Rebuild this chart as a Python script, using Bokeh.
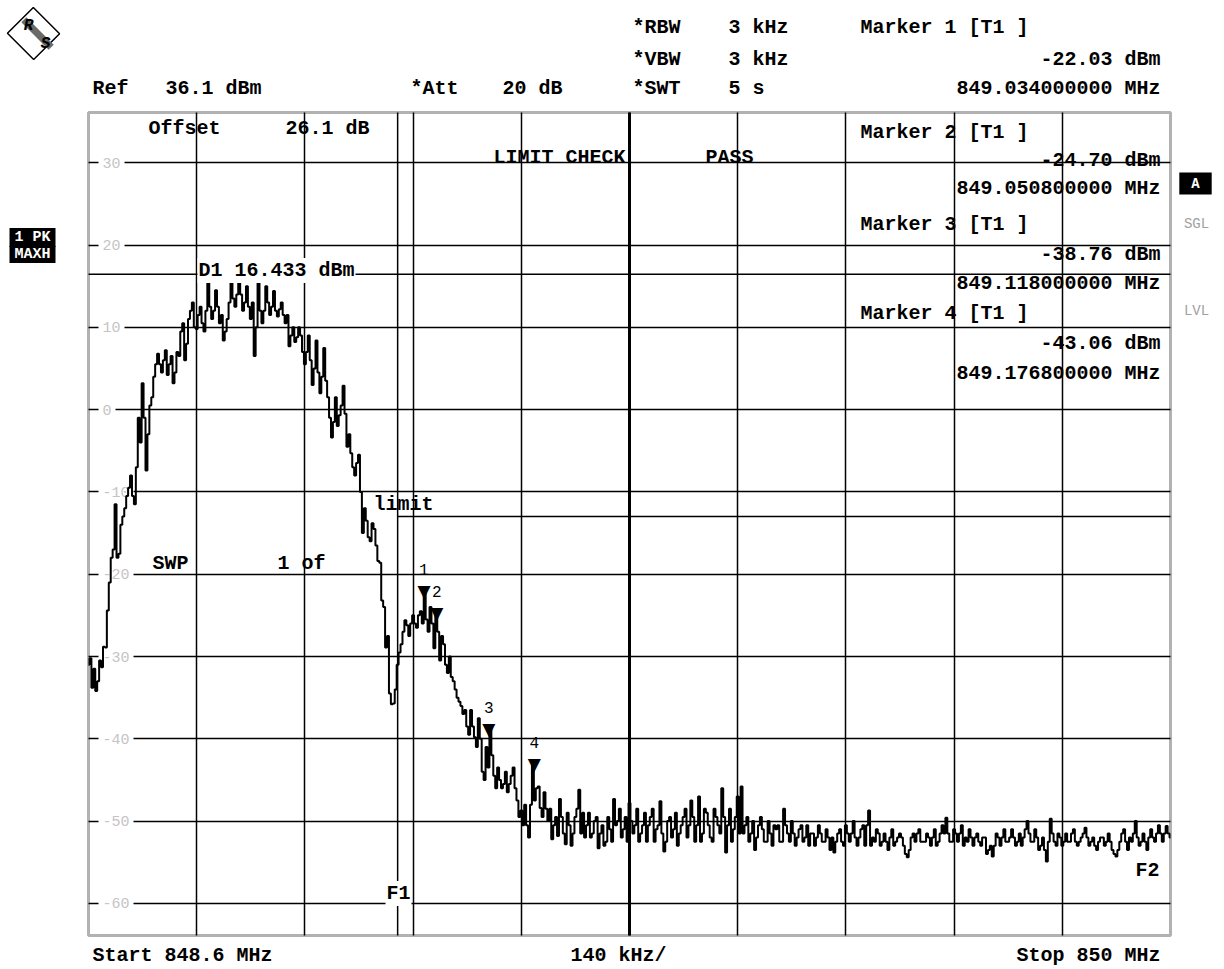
import numpy as np
from bokeh.plotting import figure
from bokeh.models import Label, Grid, FixedTicker, Range1d, ColumnDataSource, BoxAnnotation
from bokeh.core.properties import value
from bokeh.embed import file_html
from bokeh.resources import INLINE

# ---------------- data ----------------
start_mhz = 848.6
stop_mhz = 850.0
span_div_khz = 140
ref_level_dbm = 36.1
bottom_level_dbm = -63.9
trace_step_khz = 2.5

trace_dbm = [
    -31.0, -30.2, -33.8, -31.5, -34.2, -33.0, -30.5, -31.3, -28.8, -28.9, -24.4, -21.0, -18.0, -17.0, -11.5, -18.0, -17.5, -14.0, -13.0, -12.0,
    -10.5, -9.5, -8.0, -10.5, -11.5, -7.0, -1.0, -4.0, 3.2, -1.0, -7.4, -3.0, 0.5, 1.5, 4.0, 5.5, 6.8, 5.5, 4.5, 6.0,
    7.2, 4.2, 5.5, 6.5, 3.2, 4.5, 7.0, 6.5, 9.5, 10.5, 6.0, 8.0, 11.0, 12.0, 13.0, 10.0, 9.8, 11.5, 12.5, 10.5,
    9.5, 12.0, 15.5, 12.5, 11.0, 12.0, 14.5, 12.5, 10.5, 11.5, 8.4, 9.5, 11.0, 13.0, 15.8, 13.5, 12.5, 14.0, 16.4, 14.0,
    12.0, 13.0, 15.0, 12.5, 11.0, 13.0, 6.5, 10.0, 15.8, 12.0, 10.5, 12.0, 15.0, 13.0, 11.5, 12.5, 14.4, 12.0, 11.3, 12.2,
    13.0, 11.5, 10.5, 11.5, 7.7, 9.0, 10.0, 8.2, 8.8, 10.0, 9.0, 7.0, 5.5, 7.0, 9.0, 6.0, 3.0, 5.0, 8.4, 4.5,
    2.0, 4.0, 7.5, 3.5, 1.5, -1.0, -3.4, -1.5, 1.5, -2.0, -0.7, 0.5, 2.9, -0.5, -4.5, -3.0, -5.3, -7.0, -8.0, -6.5,
    -5.5, -10.0, -15.0, -12.0, -13.5, -15.5, -16.0, -13.8, -14.5, -16.5, -18.4, -18.6, -23.2, -24.0, -28.9, -27.5, -34.5, -35.8, -35.7, -34.0,
    -31.0, -29.5, -28.5, -27.0, -25.6, -26.2, -27.5, -26.0, -25.0, -26.0, -26.5, -25.0, -24.5, -26.0, -22.0, -25.5, -27.0, -24.0, -26.0, -29.0,
    -24.7, -27.0, -30.5, -27.5, -28.5, -31.0, -32.0, -30.0, -32.5, -33.0, -34.0, -35.0, -35.5, -36.0, -37.0, -36.5, -38.5, -39.5, -36.5, -38.5,
    -39.8, -41.0, -37.5, -40.0, -44.0, -45.0, -41.0, -43.5, -38.8, -42.0, -44.5, -46.0, -43.5, -45.0, -46.0, -45.5, -44.0, -46.5, -45.5, -44.5,
    -43.5, -46.0, -47.5, -49.5, -48.7, -50.5, -48.0, -50.5, -52.0, -48.0, -43.1, -47.5, -46.0, -45.8, -48.4, -49.5, -46.5, -48.5, -50.0, -48.5,
    -52.2, -50.5, -49.5, -51.8, -47.3, -49.5, -51.5, -52.8, -49.0, -50.5, -53.0, -51.5, -49.5, -48.5, -46.2, -51.5, -49.0, -52.0, -50.5, -49.0,
    -52.0, -51.5, -50.0, -49.5, -53.3, -51.5, -50.5, -53.0, -52.5, -49.5, -51.0, -52.5, -47.3, -50.5, -50.0, -48.5, -52.0, -51.0, -49.5, -52.5,
    -47.8, -50.0, -51.5, -50.5, -48.5, -52.5, -51.5, -50.5, -49.0, -52.5, -50.5, -49.5, -48.5, -52.5, -51.0, -50.5, -47.6, -51.5, -53.7, -52.5,
    -50.0, -49.5, -52.0, -51.0, -49.0, -53.0, -51.5, -50.5, -49.5, -48.5, -52.0, -50.5, -47.5, -49.5, -52.5, -50.5, -47.0, -52.5, -51.5, -48.5,
    -49.0, -50.5, -52.0, -52.5, -48.5, -49.5, -50.5, -51.5, -46.0, -49.5, -53.8, -50.5, -48.5, -52.5, -51.0, -49.5, -47.0, -51.5, -45.8, -51.5,
    -50.5, -49.5, -52.5, -51.5, -50.0, -53.5, -52.0, -50.5, -49.5, -51.0, -52.5, -52.5, -50.0, -51.5, -53.0, -50.5, -51.0, -50.5, -52.5, -52.5,
    -48.5, -50.5, -51.5, -52.5, -50.0, -51.5, -53.0, -52.0, -51.0, -50.5, -52.5, -52.0, -50.5, -53.0, -51.5, -51.5, -53.0, -52.0, -50.5, -51.5,
    -52.5, -52.5, -51.0, -52.0, -53.5, -52.0, -53.8, -52.5, -51.5, -51.0, -52.5, -53.0, -50.5, -51.5, -52.5, -51.5, -50.0, -52.0, -53.0, -52.0,
    -51.0, -50.5, -53.0, -50.5, -48.7, -53.0, -52.0, -52.5, -51.0, -51.5, -53.0, -52.5, -51.5, -52.5, -53.5, -52.0, -51.0, -53.0, -52.5, -52.0,
    -51.5, -52.0, -53.0, -54.0, -54.4, -53.5, -52.0, -51.5, -52.5, -51.5, -51.0, -52.5, -52.5, -52.5, -51.5, -52.0, -53.0, -52.0, -51.0, -53.0,
    -52.5, -51.5, -50.5, -51.5, -49.6, -51.5, -52.5, -52.5, -51.0, -51.5, -52.5, -51.5, -50.5, -53.0, -52.0, -52.5, -51.0, -52.0, -53.0, -52.0,
    -51.5, -52.5, -53.0, -52.0, -52.0, -54.0, -53.5, -53.0, -54.3, -53.0, -51.5, -52.0, -53.0, -52.0, -51.0, -52.5, -52.5, -52.0, -51.0, -52.0,
    -53.0, -52.5, -51.5, -53.0, -52.0, -51.0, -50.0, -51.5, -52.5, -52.5, -51.0, -52.0, -53.5, -53.0, -52.0, -53.5, -54.9, -52.5, -49.7, -51.5,
    -52.5, -53.0, -51.5, -52.0, -53.0, -52.5, -51.5, -52.5, -52.5, -51.5, -51.0, -52.5, -53.0, -52.5, -52.0, -51.5, -50.8, -52.0, -53.0, -52.5,
    -52.0, -53.0, -53.5, -52.5, -52.0, -52.0, -53.0, -52.5, -51.5, -52.5, -53.5, -54.0, -54.3, -53.5, -52.5, -51.5, -51.0, -52.5, -53.5, -52.0,
    -52.5, -51.5, -50.0, -52.0, -53.0, -52.5, -51.5, -52.5, -53.5, -52.0, -51.0, -52.0, -52.5, -51.5, -50.5, -51.5, -52.5, -51.5, -50.6, -51.5,
    -52.0,
]

marker_id = ["1", "2", "3", "4"]
marker_freq_mhz = [849.034, 849.0508, 849.118, 849.1768]
marker_dbm = [-22.03, -24.70, -38.76, -43.06]

y_grid_dbm = [30, 20, 10, 0, -10, -20, -30, -40, -50, -60]
display_line_d1_dbm = 16.433
limit_freq_mhz = [849.0, 850.0]
limit_dbm = [-13.0, -13.0]
f1_mhz = 849.0
f2_mhz = 850.0

# ---------------- derived ----------------
freq_mhz = start_mhz + np.arange(len(trace_dbm)) * trace_step_khz / 1000.0
center_mhz = (start_mhz + stop_mhz) / 2.0
x_grid = [start_mhz + k * (stop_mhz - start_mhz) / 10 for k in range(1, 10)]

# ---------------- layout (page pixels) ----------------
W, H = 1224, 969
FL, FR, FT, FB = 88, 1170, 112, 935   # diagram box edges on the page
sx = (FR - FL) / (stop_mhz - start_mhz)
sy = (FB - FT) / (ref_level_dbm - bottom_level_dbm)
x0 = start_mhz - FL / sx
x1 = stop_mhz + (W - FR) / sx
y1 = ref_level_dbm + FT / sy
y0 = bottom_level_dbm - (H - FB) / sy

p = figure(width=W, height=H, output_backend="svg", toolbar_location=None,
           x_range=Range1d(x0, x1), y_range=Range1d(y0, y1),
           x_axis_location=None, y_axis_location=None,
           min_border=0, min_border_left=0, min_border_right=0,
           min_border_top=0, min_border_bottom=0)
p.grid.visible = False
p.outline_line_color = None
p.background_fill_color = "white"
p.border_fill_color = "white"

# grid
has_cb = "cross_bounds" in Grid.properties()
if has_cb:
    p.add_layout(Grid(dimension=0, ticker=FixedTicker(ticks=x_grid),
                      cross_bounds=(bottom_level_dbm, ref_level_dbm),
                      grid_line_color="black", grid_line_width=1.5))
    p.add_layout(Grid(dimension=1, ticker=FixedTicker(ticks=y_grid_dbm),
                      cross_bounds=(start_mhz, stop_mhz),
                      grid_line_color="black", grid_line_width=1.5))
else:
    p.segment(x0=x_grid, x1=x_grid, y0=[bottom_level_dbm] * len(x_grid),
              y1=[ref_level_dbm] * len(x_grid), line_color="black", line_width=1.5)
    p.segment(x0=[start_mhz] * len(y_grid_dbm), x1=[stop_mhz] * len(y_grid_dbm),
              y0=y_grid_dbm, y1=y_grid_dbm, line_color="black", line_width=1.5)

FONT = "Liberation Mono"


def L(text, X, Y, align="left", size=20, color="black", bold=True, bg=None,
      pad=None, level=None, angle=0, font=FONT, border=None, italic=False):
    style = "bold" if bold else "normal"
    if italic:
        style = "bold italic" if bold else "italic"
    kw = dict(x=X, y=H - Y, x_units="screen", y_units="screen",
              text=text, text_align=align, text_baseline="middle",
              text_font=font, text_font_size=f"{size}px", text_color=color,
              text_font_style=style)
    if bg:
        kw["background_fill_color"] = bg
    if pad is not None:
        kw["padding"] = pad
    if level:
        kw["level"] = level
    if angle:
        kw["angle"] = angle
        kw["angle_units"] = "deg"
    if border:
        kw["border_line_color"] = border
        kw["border_line_width"] = 1.5
    p.add_layout(Label(**kw))


# y-level labels (light grey, inside the diagram)
for v in y_grid_dbm:
    p.add_layout(Label(x=98, y=v, x_units="screen", y_units="data", text=str(v),
                       text_align="left", text_baseline="middle", text_font=FONT,
                       text_font_size="15px", text_color="#c4c4c4",
                       background_fill_color="white", padding=(4, 3), level="underlay"))

# special lines
p.line(x=[center_mhz, center_mhz], y=[bottom_level_dbm, ref_level_dbm], line_color="black", line_width=3)
p.line(x=[start_mhz, stop_mhz], y=[display_line_d1_dbm] * 2, line_color="black", line_width=1.5)
p.line(x=[f1_mhz, f1_mhz], y=[bottom_level_dbm, ref_level_dbm], line_color="black", line_width=1.5)
p.line(x=limit_freq_mhz, y=limit_dbm, line_color="black", line_width=1.5)

# trace
p.step(x=freq_mhz, y=trace_dbm, mode="center", line_color="black", line_width=2)

# diagram frame
p.add_layout(BoxAnnotation(left=start_mhz, right=stop_mhz, bottom=bottom_level_dbm,
                           top=ref_level_dbm, fill_alpha=0, line_color="black", line_width=3))

# markers
msrc = ColumnDataSource(dict(x=marker_freq_mhz, y=marker_dbm,
                             tri=["\u25BC"] * len(marker_id), lab=marker_id))
p.text(x="x", y="y", text="tri", source=msrc, text_align="center",
       text_baseline="alphabetic", text_font=value("DejaVu Sans"),
       text_font_size="17px", text_color="black")
p.text(x="x", y="y", text="lab", source=msrc, text_align="center",
       text_baseline="alphabetic", y_offset=-21, text_font=value(FONT),
       text_font_size="16px", text_color="black")

# ---------------- texts ----------------
# logo
L(" ", 33, 33, size=1, pad=18, border="black", angle=45, align="center")
L(" ", 37, 33, size=1, pad=(19, 3), bg="#6a6a6a", angle=-45, align="center")
L("R", 28, 25, size=16, bold=True, italic=True, align="center")
L("S", 45, 43, size=16, bold=True, italic=True, align="center")

# header
L("*RBW", 632, 27)
L("3 kHz", 728, 27)
L("*VBW", 632, 59)
L("3 kHz", 728, 59)
L("*SWT", 632, 88)
L("5 s", 728, 88)
L("Ref", 92, 88)
L("36.1 dBm", 165, 88)
L("*Att", 410, 88)
L("20 dB", 502, 88)
L(f"Marker {marker_id[0]} [T1 ]", 860, 27)
L(f"{marker_dbm[0]:.2f} dBm", 1160, 59, align="right")
L(f"{marker_freq_mhz[0]:.9f} MHz", 1160, 88, align="right")

# marker table inside the diagram
rows = [(132, 160, 188), (224, 254, 283), (313, 343, 373)]
for k, (ya, yb, yc) in zip(range(1, 4), rows):
    L(f"Marker {marker_id[k]} [T1 ]", 860, ya)
    L(f"{marker_dbm[k]:.2f} dBm", 1160, yb, align="right")
    L(f"{marker_freq_mhz[k]:.9f} MHz", 1160, yc, align="right")

L("Offset", 148, 128)
L("26.1 dB", 285, 128)
L("LIMIT CHECK", 493, 157)
L("PASS", 705, 157)
L(f"D1 {display_line_d1_dbm:.3f} dBm", 197, 270, bg="white", pad=1)
L("limit", 373, 504)
L("SWP", 152, 563)
L("1 of", 277, 563)
L("F1", 385, 893, bg="white", pad=1)
L("F2", 1135, 870)

# bottom
L(f"Start {start_mhz:.1f} MHz", 92, 955)
L(f"{span_div_khz} kHz/", 570, 955)
L(f"Stop {stop_mhz:.0f} MHz", 1160, 955, align="right")

# side annotations
L("1 PK", 32, 237, size=15, color="white", bg="black", pad=(5, 1), align="center")
L("MAXH", 32, 254, size=15, color="white", bg="black", pad=(5, 0), align="center")
L("A", 1195, 183, size=14, color="white", bg="black", pad=(12, 3), align="center")
L("SGL", 1196, 223, size=14, color="#a0a0a0", bold=False, align="center")
L("LVL", 1196, 310, size=14, color="#a0a0a0", bold=False, align="center")

open("out.html", "w").write(file_html(p, INLINE))
